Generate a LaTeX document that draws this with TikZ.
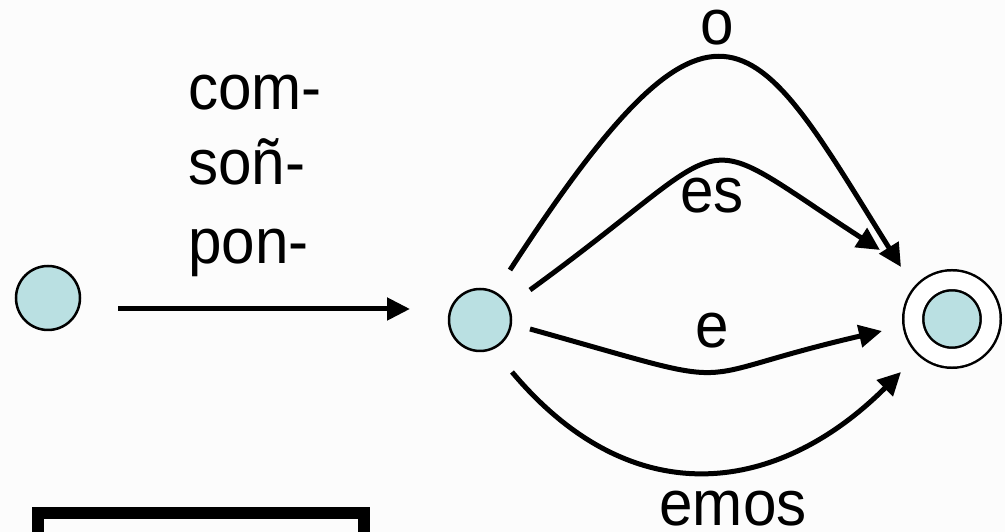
\documentclass[tikz,border=0pt]{standalone}
\usepackage{fontspec}
\setmainfont[FakeStretch=0.94]{Liberation Sans}
\usetikzlibrary{arrows.meta}
\definecolor{statefill}{RGB}{186,224,226}

\begin{document}
\begin{tikzpicture}[x=1pt,y=1pt,
  state/.style={circle,draw,line width=2.5pt,fill=statefill,inner sep=0pt,
    outer sep=0pt,minimum size=#1},
  trans/.style={line width=5pt,-{Triangle[length=23pt,width=22pt]}},
  lbl/.style={font=\fontsize{64}{77}\selectfont,inner sep=0pt}]
  \useasboundingbox (0,0) rectangle (1005,532);
  \clip (0,0) rectangle (1005,532);
  \fill[white!99!black] (0,0) rectangle (1005,532);
  \node[state=64pt] (q0) at (48,234) {};
  \node[state=62pt] (q1) at (480,212) {};
  \node[state=77.5pt,double,double distance=17.5pt] (q2) at (952,213) {};
  \draw[trans] ([shift={(70,-11)}]q0.center) -- ([shift={(-70,11)}]q1.center);
  \foreach \t/\y [count=\i] in {com-/422,soñ-/347,pon-/268}
    \node[lbl,anchor=base west] (stem\i) at (188,\y) {\t};
  \draw[trans] ([shift={(30,50)}]q1.center) .. controls +(57:387) and
    +(122:275) .. ([shift={(-51,52)}]q2.center);
  \draw[trans] ([shift={(50,30)}]q1.center) .. controls +(36:269) and
    +(147:234) .. ([shift={(-72,69)}]q2.center);
  \draw[trans] ([shift={(50,-9)}]q1.center) .. controls +(-15.6:236) and
    +(193:215) .. ([shift={(-70,-12)}]q2.center);
  \draw[trans] ([shift={(32,-52)}]q1.center) .. controls +(-50:190) and
    +(225:171) .. ([shift={(-51,-53)}]q2.center);
  \node[lbl,anchor=base] (lo) at (717,487) {o};
  \node[lbl,anchor=base] (les) at (712,319) {es};
  \node[lbl,anchor=base] (le) at (712,184) {e};
  \node[lbl,anchor=base] (lemos) at (733,6) {emos};
  \draw[line width=12pt] (38,19) rectangle (364,-40);
\end{tikzpicture}
\end{document}
